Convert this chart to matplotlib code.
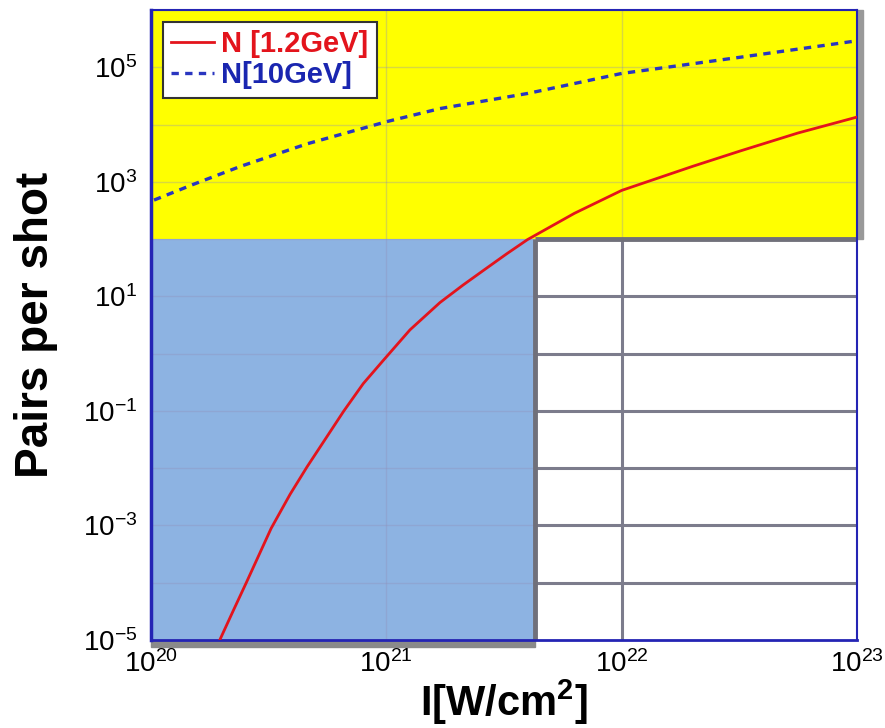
#
# Pair production per shot vs laser intensity
#

import matplotlib
matplotlib.use("Agg")
import matplotlib.pyplot as plt
from matplotlib.patches import Rectangle

plt.rcParams['font.family'] = ['Liberation Sans', 'DejaVu Sans']
plt.rcParams['mathtext.fontset'] = 'custom'
plt.rcParams['mathtext.rm'] = 'Liberation Sans'
plt.rcParams['mathtext.it'] = 'Liberation Sans:italic'
plt.rcParams['mathtext.bf'] = 'Liberation Sans:bold'
plt.rcParams['axes.unicode_minus'] = False

# data
red_I = [1.96e20, 2.24e20, 2.54e20, 3.24e20, 3.9e20, 4.6e20, 6.6e20, 7.98e20,
         9.7e20, 1.26e21, 1.69e21, 2.12e21, 2.58e21, 3.24e21, 3.98e21, 6.3e21,
         1.0e22, 2.0e22, 3.2e22, 5.6e22, 1.0e23]
red_N = [1e-5, 3.3e-5, 1e-4, 8.9e-4, 3.5e-3, 1.05e-2, 0.1, 0.30,
         0.76, 2.6, 7.8, 15.8, 28.2, 55, 98, 282,
         708, 1.86e3, 3.47e3, 7.1e3, 1.35e4]

blue_I = [1.03e20, 1.5e20, 2.4e20, 4.6e20, 1.0e21, 1.69e21, 4.0e21, 1.0e22, 3.2e22, 1.0e23]
blue_N = [480, 890, 1.86e3, 4.6e3, 1.12e4, 1.9e4, 3.5e4, 7.8e4, 1.5e5, 2.9e5]

labels = ["N [1.2GeV]", "N[10GeV]"]

# shaded regions
x_min, x_max = 1e20, 1e23
y_min, y_max = 1e-5, 1e6
threshold_N = 1e2      # yellow above this
cut_I = 4.3e21         # blue region ends here

x_ticks = [1e20, 1e21, 1e22, 1e23]
x_ticklabels = [r'$10^{20}$', r'$10^{21}$', r'$10^{22}$', r'$10^{23}$']
y_exps = list(range(-5, 7))

fig = plt.figure(figsize=(8.85, 7.28), dpi=100)
ax = fig.add_axes([151/885, 88/728, 706/885, 630/728])
ax.set_xscale('log')
ax.set_yscale('log')
ax.set_xlim(x_min, x_max)
ax.set_ylim(y_min, y_max)

# background regions
ax.axhspan(threshold_N, y_max, color='#ffff00', zorder=0)
ax.fill_between([x_min, cut_I], y_min, threshold_N, color='#8db3e2', zorder=0, lw=0)

# grid
ax.set_xticks(x_ticks)
ax.set_xticklabels(x_ticklabels)
ax.set_yticks([10.0**e for e in y_exps])
ax.set_yticklabels([r'$10^{\mathrm{%d}}$' % e if e % 2 else '' for e in y_exps])
ax.minorticks_off()
ax.grid(True, color='#9090b8', alpha=0.35, lw=1)
ax.set_axisbelow(True)

# heavy grid in the white area
grid_col = '#7c7c8c'
ax.hlines([10.0**e for e in range(-4, 2)], cut_I, x_max, colors=grid_col, lw=2.2, zorder=1)
ax.vlines(1e22, y_min, threshold_N, colors=grid_col, lw=2.2, zorder=1)
ax.vlines(cut_I, y_min, threshold_N, colors='#70707a', lw=3.5, zorder=1)
ax.hlines(threshold_N, cut_I, x_max, colors='#70707a', lw=3.5, zorder=1)

# curves
ax.plot(red_I, red_N, color='#e3141c', lw=2.0, label=labels[0], zorder=3)
ax.plot(blue_I, blue_N, color='#2a36c0', lw=2.4, dashes=(2.2, 1.9), label=labels[1], zorder=3)

# spines
for s in ax.spines.values():
    s.set_color('#2424b4')
    s.set_linewidth(1.5)
ax.spines['left'].set_linewidth(2.5)
ax.spines['bottom'].set_linewidth(2.0)

# grey shadow on right of yellow and below blue
ax.add_patch(Rectangle((1.0, threshold_N), 0.008, y_max, transform=ax.get_yaxis_transform(),
                       color='#999999', clip_on=False, zorder=0))
ax.add_patch(Rectangle((x_min, -0.011), cut_I - x_min, 0.011, transform=ax.get_xaxis_transform(),
                       color='#8a8a8a', clip_on=False, zorder=0))

ax.tick_params(length=0, labelsize=20)
ax.tick_params(axis='y', pad=10)
ax.tick_params(axis='x', pad=7)

ax.set_xlabel(r'I[W/cm$^{\mathbf{2}}$]', fontsize=30, fontweight='bold', labelpad=0)
ax.set_ylabel('Pairs per shot', fontsize=33, fontweight='bold', labelpad=18)

leg = ax.legend(loc='upper left', fontsize=21, handlelength=1.45, handletextpad=0.25,
                labelspacing=0.1, borderpad=0.3, borderaxespad=0.4, fancybox=False,
                framealpha=1)
leg.get_frame().set_edgecolor('#333333')
leg.get_frame().set_linewidth(1.5)
for t, c in zip(leg.get_texts(), ['#e3141c', '#1a26b0']):
    t.set_color(c)
    t.set_fontweight('bold')

fig.savefig('out.png', dpi=100)
